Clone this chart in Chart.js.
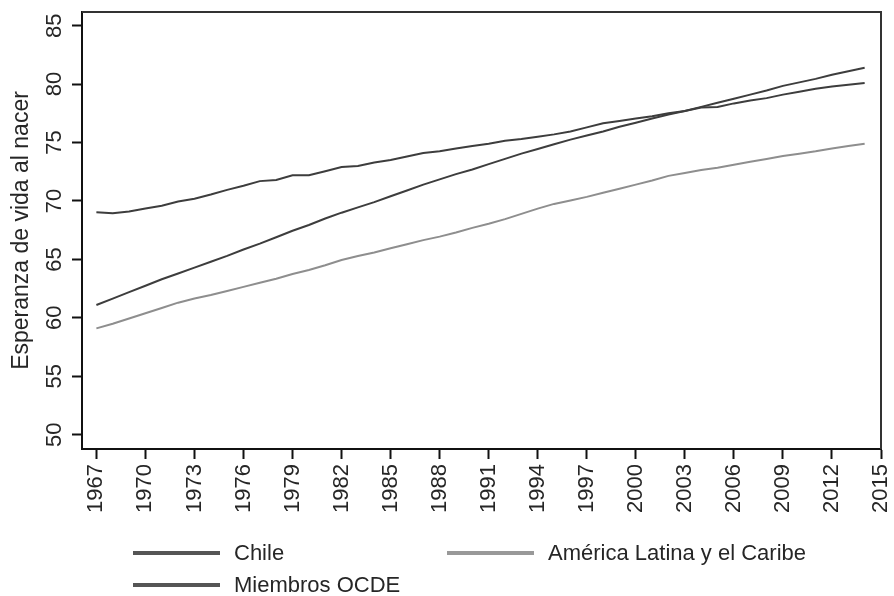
<!DOCTYPE html>
<html>
<head>
<meta charset="utf-8">
<script src="https://cdn.jsdelivr.net/npm/chart.js@4/dist/chart.umd.min.js"></script>
<style>
  html, body { margin: 0; padding: 0; background: #fff; }
  #wrap { width: 894px; height: 596px; }
</style>
</head>
<body>
<div id="wrap"><canvas id="chart" width="894" height="596"></canvas></div>
<script>
const YEARS = [
  1967, 1968, 1969, 1970, 1971, 1972, 1973, 1974, 1975, 1976, 1977, 1978,
  1979, 1980, 1981, 1982, 1983, 1984, 1985, 1986, 1987, 1988, 1989, 1990,
  1991, 1992, 1993, 1994, 1995, 1996, 1997, 1998, 1999, 2000, 2001, 2002,
  2003, 2004, 2005, 2006, 2007, 2008, 2009, 2010, 2011, 2012, 2013, 2014,
];

const CHILE = [
  61.1, 61.65, 62.2, 62.75, 63.3, 63.8, 64.3, 64.8, 65.3, 65.85, 66.35, 66.9,
  67.45, 67.95, 68.5, 69.0, 69.45, 69.9, 70.4, 70.9, 71.4, 71.85, 72.3, 72.7,
  73.15, 73.6, 74.05, 74.45, 74.85, 75.25, 75.6, 75.95, 76.35, 76.7, 77.05, 77.4,
  77.7, 78.05, 78.4, 78.75, 79.1, 79.45, 79.85, 80.15, 80.45, 80.8, 81.1, 81.4,
];

const AMERICA_LATINA = [
  59.1, 59.5, 59.95, 60.4, 60.85, 61.3, 61.65, 61.95, 62.3, 62.65, 63.0, 63.35,
  63.75, 64.1, 64.5, 64.95, 65.3, 65.6, 65.95, 66.3, 66.65, 66.95, 67.3, 67.7,
  68.05, 68.45, 68.9, 69.35, 69.75, 70.05, 70.35, 70.7, 71.05, 71.4, 71.75, 72.15,
  72.4, 72.65, 72.85, 73.1, 73.35, 73.6, 73.85, 74.05, 74.25, 74.5, 74.7, 74.9,
];

const OCDE = [
  69.03, 68.95, 69.1, 69.35, 69.6, 69.95, 70.2, 70.55, 70.95, 71.3, 71.7, 71.8,
  72.2, 72.2, 72.55, 72.9, 73.0, 73.3, 73.5, 73.8, 74.1, 74.25, 74.5, 74.7,
  74.9, 75.15, 75.3, 75.5, 75.7, 75.95, 76.3, 76.65, 76.85, 77.05, 77.25, 77.5,
  77.7, 78.0, 78.05, 78.35, 78.6, 78.8, 79.1, 79.35, 79.6, 79.8, 79.95, 80.1,
];

const X_TICKS = [1967, 1970, 1973, 1976, 1979, 1982, 1985, 1988, 1991, 1994, 1997, 2000, 2003, 2006, 2009, 2012, 2015];
const Y_TICKS = [50, 55, 60, 65, 70, 75, 80, 85];

const FONT = { family: '"Liberation Sans", Arial, sans-serif', size: 22 };
const TITLE_FONT = { family: '"Liberation Sans", Arial, sans-serif', size: 23 };
const TEXT_COLOR = '#262626';
const DARK = '#3d3d3d';
const LIGHT = '#8e8e8e';

// where each legend entry sits (line start x, row y)
const LEGEND_SLOTS = [
  { x: 133, y: 553 },
  { x: 447, y: 553 },
  { x: 133, y: 585 },
];

function toPoints(values) {
  return values.map((v, i) => ({ x: YEARS[i], y: v }));
}

const framePlugin = {
  id: 'frame',
  beforeDatasetsDraw(chart) {
    const { ctx, chartArea: a } = chart;
    ctx.save();
    ctx.strokeStyle = '#333';
    ctx.lineWidth = 2;
    ctx.beginPath();
    ctx.moveTo(a.left, a.top);
    ctx.lineTo(a.right, a.top);
    ctx.lineTo(a.right, a.bottom);
    ctx.stroke();
    ctx.restore();
  },
};

const legendPlugin = {
  id: 'bottomLegend',
  afterDraw(chart) {
    const { ctx } = chart;
    ctx.save();
    ctx.font = `${FONT.size}px ${FONT.family}`;
    ctx.textBaseline = 'middle';
    ctx.fillStyle = TEXT_COLOR;
    chart.data.datasets.forEach((ds, i) => {
      const slot = LEGEND_SLOTS[i];
      ctx.strokeStyle = ds.legendColor;
      ctx.lineWidth = 4;
      ctx.beginPath();
      ctx.moveTo(slot.x, slot.y);
      ctx.lineTo(slot.x + 87, slot.y);
      ctx.stroke();
      ctx.fillText(ds.label, slot.x + 101, slot.y + 1);
    });
    ctx.restore();
  },
};

const canvas = document.getElementById('chart');

new Chart(canvas.getContext('2d'), {
  type: 'line',
  data: {
    datasets: [
      { label: 'Chile', data: toPoints(CHILE), borderColor: DARK, legendColor: '#555' },
      { label: 'América Latina y el Caribe', data: toPoints(AMERICA_LATINA), borderColor: LIGHT, legendColor: '#999' },
      { label: 'Miembros OCDE', data: toPoints(OCDE), borderColor: DARK, legendColor: '#555' },
    ].map((ds) => ({ ...ds, borderWidth: 2, pointRadius: 0, tension: 0, fill: false })),
  },
  options: {
    responsive: false,
    devicePixelRatio: 1,
    animation: false,
    layout: { padding: { top: 12, right: 13, bottom: 0, left: 0 } },
    plugins: {
      legend: { display: false },
      tooltip: { enabled: false },
    },
    scales: {
      x: {
        type: 'linear',
        min: 1966.12,
        max: 2015,
        afterBuildTicks: (scale) => {
          scale.ticks = X_TICKS.map((value) => ({ value }));
        },
        afterFit: (scale) => {
          scale.height = 147;
          scale.paddingLeft = 0;
          scale.paddingRight = 0;
        },
        ticks: {
          autoSkip: false,
          minRotation: 90,
          maxRotation: 90,
          padding: 5,
          color: TEXT_COLOR,
          font: FONT,
          callback: (value) => String(value),
        },
        grid: {
          drawOnChartArea: false,
          drawTicks: true,
          tickLength: 10,
          tickWidth: 2,
          tickColor: '#111',
        },
        border: { display: true, color: '#111', width: 2 },
      },
      y: {
        min: 48.78,
        max: 86.17,
        afterBuildTicks: (scale) => {
          scale.ticks = Y_TICKS.map((value) => ({ value }));
        },
        afterFit: (scale) => {
          scale.width = 82;
          scale.paddingTop = 0;
          scale.paddingBottom = 0;
        },
        ticks: {
          minRotation: 90,
          maxRotation: 90,
          crossAlign: 'center',
          padding: 5,
          color: TEXT_COLOR,
          font: FONT,
          callback: (value) => String(value),
        },
        grid: {
          drawOnChartArea: false,
          drawTicks: true,
          tickLength: 10,
          tickWidth: 2,
          tickColor: '#111',
        },
        border: { display: true, color: '#111', width: 2 },
        title: {
          display: true,
          text: 'Esperanza de vida al nacer',
          color: TEXT_COLOR,
          font: TITLE_FONT,
          padding: { top: 8, bottom: 0 },
        },
      },
    },
  },
  plugins: [framePlugin, legendPlugin],
});
</script>
</body>
</html>
